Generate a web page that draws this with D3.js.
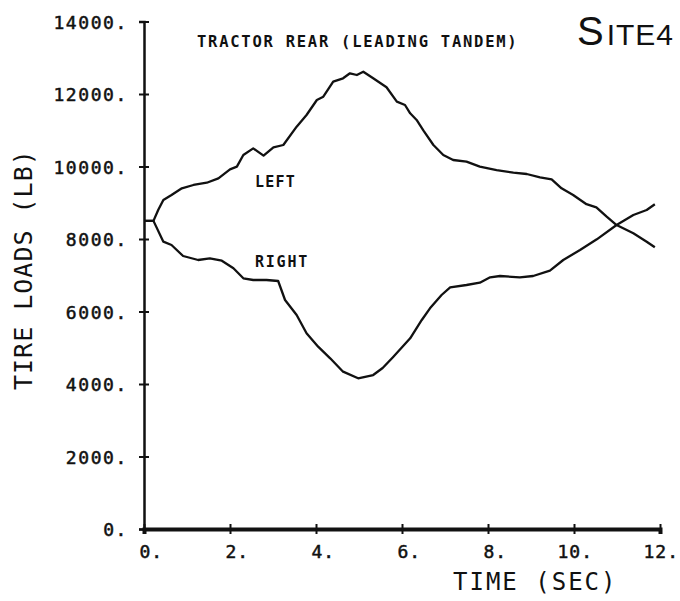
<!DOCTYPE html>
<html>
<head>
<meta charset="utf-8">
<script src="https://cdn.jsdelivr.net/npm/d3@7"></script>
<style>
  html, body { margin: 0; padding: 0; background: #fff; }
  svg { display: block; }
  .mono { font-family: "DejaVu Sans Mono", monospace; fill: #111; }
</style>
</head>
<body>
<svg id="chart" width="680" height="601"></svg>
<script>
// ---- data ----
const timeTicks = [0, 2, 4, 6, 8, 10, 12];
const timeTickLabels = ["0.", "2.", "4.", "6.", "8.", "10.", "12."];
const loadTicks = [0, 2000, 4000, 6000, 8000, 10000, 12000, 14000];
const loadTickLabels = ["0.", "2000.", "4000.", "6000.", "8000.", "10000.", "12000.", "14000."];

const leftTime = [0, 0.22, 0.33, 0.45, 0.64, 0.88, 1.15, 1.46, 1.73, 2.0, 2.16, 2.31, 2.54, 2.78, 3.01, 3.24, 3.55, 3.78, 4.02, 4.17, 4.4, 4.63, 4.79, 4.95, 5.1, 5.33, 5.64, 5.88, 6.07, 6.19, 6.34, 6.5, 6.73, 6.96, 7.19, 7.5, 7.81, 8.2, 8.59, 8.9, 9.21, 9.48, 9.71, 9.98, 10.29, 10.52, 10.76, 10.99, 11.38, 11.69, 11.88];
const leftLoad = [8500, 8500, 8800, 9076, 9214, 9398, 9490, 9553, 9674, 9922, 9995, 10317, 10501, 10299, 10530, 10593, 11099, 11421, 11834, 11926, 12340, 12433, 12571, 12524, 12616, 12433, 12185, 11788, 11697, 11467, 11283, 10988, 10593, 10317, 10179, 10133, 9995, 9903, 9829, 9793, 9701, 9646, 9398, 9214, 8960, 8874, 8616, 8386, 8156, 7926, 7771];

const rightTime = [0, 0.22, 0.45, 0.64, 0.91, 1.26, 1.53, 1.81, 2.08, 2.31, 2.54, 2.85, 3.12, 3.28, 3.55, 3.78, 4.05, 4.33, 4.63, 4.98, 5.33, 5.55, 5.8, 6.19, 6.46, 6.65, 6.92, 7.12, 7.5, 7.81, 8.05, 8.28, 8.74, 9.05, 9.44, 9.75, 10.14, 10.53, 10.99, 11.38, 11.69, 11.88];
const rightLoad = [8500, 8500, 7926, 7834, 7531, 7421, 7467, 7402, 7192, 6916, 6869, 6869, 6841, 6317, 5903, 5398, 5029, 4709, 4340, 4157, 4248, 4440, 4753, 5261, 5766, 6088, 6455, 6667, 6731, 6795, 6943, 6979, 6943, 6979, 7126, 7421, 7697, 7991, 8386, 8662, 8800, 8957];

const seriesNames = ["LEFT", "RIGHT"];
const titleText = "TRACTOR REAR (LEADING TANDEM)";
const xTitle = "TIME (SEC)";
const yTitle = "TIRE LOADS (LB)";

// ---- layout ----
const svg = d3.select("#chart");
const x = d3.scaleLinear().domain([0, 12]).range([144, 660]);
const y = d3.scaleLinear().domain([0, 14000]).range([529, 21.5]);

// Y axis
const yAxis = svg.append("g")
  .attr("transform", `translate(${x(0)},0)`)
  .call(d3.axisLeft(y).tickValues(loadTicks)
    .tickFormat((d, i) => loadTickLabels[i])
    .tickSizeOuter(0).tickSize(5).tickPadding(11));
yAxis.select(".domain").attr("stroke", "#111").attr("stroke-width", 2.5);
yAxis.selectAll(".tick line").attr("x1", -5).attr("x2", 5)
  .attr("stroke", "#111").attr("stroke-width", 2);
yAxis.selectAll(".tick text")
  .attr("class", "mono")
  .attr("font-size", 18).attr("letter-spacing", 1.6)
  .attr("stroke", "#111").attr("stroke-width", 0.5)
  .attr("dy", "0.38em");
yAxis.attr("font-family", null).attr("font-size", null);

// X axis
const xAxis = svg.append("g")
  .attr("transform", `translate(0,${y(0)})`)
  .call(d3.axisBottom(x).tickValues(timeTicks)
    .tickFormat((d, i) => timeTickLabels[i])
    .tickSizeOuter(0).tickSize(5));
xAxis.select(".domain").attr("stroke", "#111").attr("stroke-width", 4);
xAxis.selectAll(".tick line").attr("y1", -5).attr("y2", 5)
  .attr("stroke", "#111").attr("stroke-width", 2);
xAxis.selectAll(".tick text")
  .attr("class", "mono")
  .attr("font-size", 18).attr("letter-spacing", 1)
  .attr("stroke", "#111").attr("stroke-width", 0.5)
  .attr("text-anchor", "start")
  .attr("x", (d, i) => timeTickLabels[i].length > 2 ? -17 : -5)
  .attr("y", 29).attr("dy", 0);
xAxis.attr("font-family", null).attr("font-size", null);

// curves
const line = d3.line().x(d => x(d[0])).y(d => y(d[1]));
const leftData = leftTime.map((t, i) => [t, leftLoad[i]]);
const rightData = rightTime.map((t, i) => [t, rightLoad[i]]);
[leftData, rightData].forEach(data => {
  svg.append("path").datum(data)
    .attr("d", line)
    .attr("fill", "none")
    .attr("stroke", "#111")
    .attr("stroke-width", 2.3)
    .attr("stroke-linejoin", "round");
});

// series labels
svg.append("text").attr("class", "mono")
  .attr("x", x(2.58)).attr("y", y(9440))
  .attr("font-size", 15).attr("font-weight", "bold").attr("letter-spacing", 1.2)
  .text(seriesNames[0]);
svg.append("text").attr("class", "mono")
  .attr("x", x(2.58)).attr("y", y(7240))
  .attr("font-size", 15).attr("font-weight", "bold").attr("letter-spacing", 1.8)
  .text(seriesNames[1]);

// title
svg.append("text").attr("class", "mono")
  .attr("x", 197).attr("y", 47)
  .attr("font-size", 15.5).attr("font-weight", "bold").attr("letter-spacing", 1.75)
  .text(titleText);

// axis titles
svg.append("text").attr("class", "mono")
  .attr("x", 453).attr("y", 590)
  .attr("font-size", 24).attr("letter-spacing", 2)
  .text(xTitle);
svg.append("text").attr("class", "mono")
  .attr("transform", "translate(32,390) rotate(-90)")
  .attr("x", 0).attr("y", 0)
  .attr("font-size", 25).attr("letter-spacing", 1)
  .text(yTitle);

// handwritten site mark
const site = svg.append("text")
  .attr("x", 577).attr("y", 45)
  .attr("font-family", "'Liberation Sans', sans-serif")
  .attr("fill", "#111");
site.append("tspan").attr("font-size", 40).text("S");
site.append("tspan").attr("font-size", 30).attr("dx", 3).attr("letter-spacing", 1).text("ITE4");
</script>
</body>
</html>
